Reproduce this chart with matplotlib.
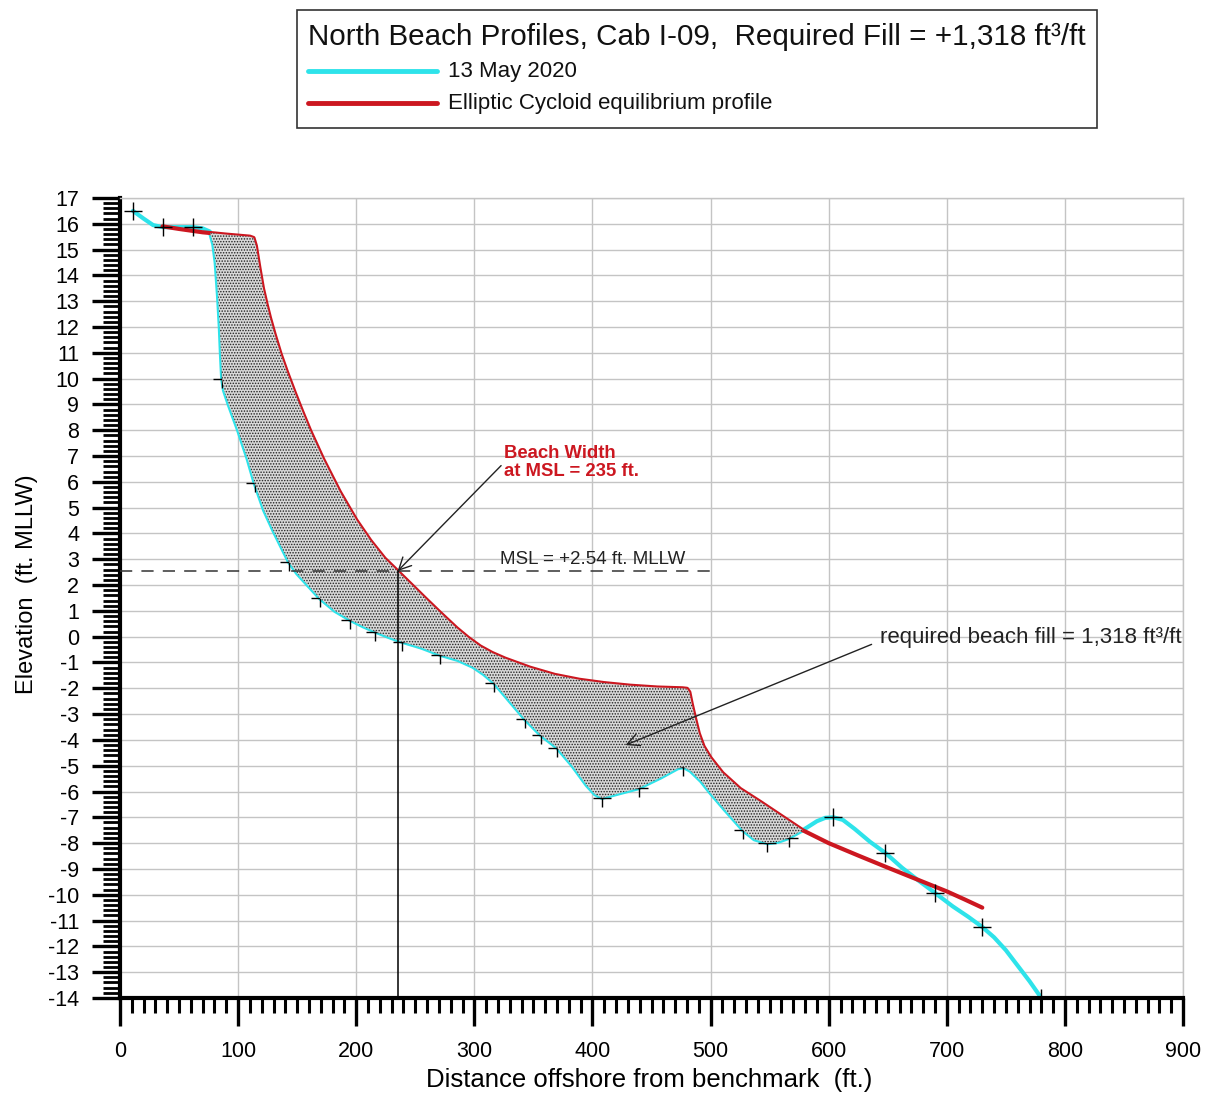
import numpy as np
import matplotlib
matplotlib.use("Agg")
import matplotlib.pyplot as plt
from matplotlib.patches import Rectangle
from matplotlib.lines import Line2D
from matplotlib.ticker import MultipleLocator

plt.rcParams['font.family'] = ['Liberation Sans', 'DejaVu Sans']
plt.rcParams['axes.unicode_minus'] = False
plt.rcParams['hatch.linewidth'] = 0.7

# 13 May 2020 survey profile (distance ft, elevation ft MLLW)
survey_x = [11, 20, 28, 36, 50, 62, 70, 76, 79, 81, 83, 84.5, 85.5, 86.5, 88, 92, 100, 108,
            114, 122, 130, 137, 143, 150, 158, 169, 182, 195, 206, 216, 228, 239, 255, 271,
            286, 299, 308, 317, 330, 343, 356, 370, 383, 395, 402, 408, 420, 439, 458, 472,
            477, 483, 492, 500, 512, 527.5, 537, 548, 557, 566, 578, 590, 597, 604, 612, 622,
            635, 648, 662, 676, 690, 705, 718, 730, 740, 750, 760, 770, 780]
survey_z = [16.5, 16.2, 15.95, 15.87, 15.87, 15.87, 15.82, 15.7, 15.2, 14.5, 13.2, 12.0, 10.9,
            10.0, 9.55, 9.0, 8.0, 6.9, 5.95, 4.9, 4.1, 3.45, 2.9, 2.45, 2.05, 1.5, 1.0, 0.65,
            0.4, 0.2, -0.02, -0.2, -0.42, -0.7, -0.9, -1.17, -1.45, -1.8, -2.5, -3.2, -3.8,
            -4.3, -5.0, -5.75, -6.1, -6.25, -6.1, -5.87, -5.45, -5.1, -5.05, -5.2, -5.6,
            -6.06, -6.7, -7.5, -7.85, -8.0, -7.95, -7.8, -7.5, -7.15, -7.02, -7.0, -7.1,
            -7.45, -7.95, -8.38, -8.95, -9.45, -9.93, -10.45, -10.85, -11.25, -11.65, -12.15,
            -12.75, -13.35, -14.0]

# surveyed shots marked with crosses
shot_x = [11, 36, 62, 86.5, 114, 143, 169, 195, 216, 239, 271, 317, 343, 356, 370, 408, 439,
          477, 527.5, 548, 566, 604, 648, 690, 730, 780]
shot_z = [16.5, 15.87, 15.87, 10.0, 5.95, 2.9, 1.5, 0.65, 0.2, -0.2, -0.7, -1.8, -3.2, -3.8,
          -4.3, -6.25, -5.87, -5.05, -7.5, -8.0, -7.8, -7.0, -8.38, -9.93, -11.25, -14.0]

# elliptic cycloid equilibrium profile
eq_x = [36, 50, 70, 90, 110, 113, 115, 118, 121, 124, 127, 131, 136, 141, 148, 154.5, 161,
        172, 186, 200, 212, 224, 235, 247, 259, 271, 285, 295, 305, 315, 326, 347, 368, 389,
        410, 432, 455, 476, 480, 482, 484, 487, 490, 494, 500, 510, 525, 542, 560, 578, 600,
        625, 650, 675, 700, 715, 730]
eq_z = [15.9, 15.8, 15.67, 15.58, 15.5, 15.45, 15.15, 14.3, 13.5, 12.9, 12.35, 11.7, 10.95,
        10.3, 9.45, 8.7, 7.98, 6.88, 5.62, 4.52, 3.72, 3.03, 2.54, 2.0, 1.46, 0.93, 0.33,
        -0.05, -0.38, -0.63, -0.85, -1.2, -1.48, -1.67, -1.8, -1.9, -1.97, -2.0, -2.02,
        -2.15, -2.6, -3.2, -3.75, -4.25, -4.7, -5.28, -5.9, -6.4, -6.95, -7.5, -8.0, -8.48,
        -8.95, -9.41, -9.87, -10.18, -10.5]

msl = 2.54
beach_width = 235
fill_start, fill_end = 62, 578

cyan = '#2ee3ea'
red = '#cc1720'

fig = plt.figure(figsize=(12.06, 10.95), dpi=100)
ax = fig.add_axes([0.0995, 0.0886, 0.8815, 0.7306])

ax.plot(survey_x, survey_z, color=cyan, lw=3, zorder=2, solid_capstyle='round',
        solid_joinstyle='round')
ax.plot(eq_x, eq_z, color=red, lw=3, zorder=2.2, solid_capstyle='round',
        solid_joinstyle='round')
ax.plot(shot_x, shot_z, ls='none', marker='+', ms=13, mew=1.0, color='black', zorder=2.5)

# required fill between equilibrium and surveyed profiles
xs = np.union1d(survey_x, eq_x)
xs = xs[(xs >= fill_start) & (xs <= fill_end)]
z_eq = np.interp(xs, eq_x, eq_z)
z_sv = np.interp(xs, survey_x, survey_z)
ax.fill_between(xs, z_sv, z_eq, where=z_eq >= z_sv, interpolate=True,
                facecolor='#d8d8d8', edgecolor='#222222', hatch='......', lw=0, zorder=3)

# MSL line and beach width marker
ax.plot([0, 500], [msl, msl], color='#333333', lw=1.1, ls=(0, (8, 6)), zorder=4)
ax.plot([beach_width, beach_width], [-14, msl], color='black', lw=1.1, zorder=4)
ax.text(322, msl + 0.12, 'MSL = +2.54 ft. MLLW', fontsize=13.5, color='#222222',
        ha='left', va='bottom', zorder=5)

ax.annotate('Beach Width\nat MSL = 235 ft.', xy=(beach_width, msl), xytext=(325, 6.74),
            fontsize=13.3, fontweight='bold', color=red, ha='left', va='center',
            linespacing=1.1, zorder=5,
            arrowprops=dict(arrowstyle='->', color='#222222', lw=1.0, mutation_scale=22,
                            shrinkA=0, shrinkB=0, relpos=(0, 0.5)))
ax.annotate('required beach fill = 1,318 ft³/ft', xy=(428, -4.2), xytext=(643, -0.05),
            fontsize=16, color='#222222', ha='left', va='center', zorder=5,
            arrowprops=dict(arrowstyle='->', color='#222222', lw=1.0, mutation_scale=22,
                            shrinkA=4, shrinkB=0, relpos=(0, 0.35)))

ax.set_xlim(0, 900)
ax.set_ylim(-14, 17)
ax.xaxis.set_major_locator(MultipleLocator(100))
ax.xaxis.set_minor_locator(MultipleLocator(10))
ax.yaxis.set_major_locator(MultipleLocator(1))
ax.yaxis.set_minor_locator(MultipleLocator(0.2))
ax.grid(True, which='major', color='#c4c4c4', lw=1.0, zorder=0)
ax.set_axisbelow(True)

ax.tick_params(axis='both', which='major', length=20, width=2.4, color='black',
               labelsize=15.5, direction='out')
ax.tick_params(axis='x', which='major', pad=11)
ax.tick_params(axis='y', which='major', pad=9.5)
ax.tick_params(axis='x', which='minor', length=11, width=2.2, direction='out')
ax.tick_params(axis='y', which='minor', length=12, width=2.0, direction='out')

for side in ('bottom', 'left'):
    ax.spines[side].set_linewidth(3)
for side in ('top', 'right'):
    ax.spines[side].set_color('#c4c4c4')
    ax.spines[side].set_linewidth(1.0)

ax.set_xlabel('Distance offshore from benchmark  (ft.)', fontsize=18.5)
ax.set_ylabel('Elevation  (ft. MLLW)', fontsize=17)
ax.xaxis.set_label_coords(0.4977, -0.088)
ax.yaxis.set_label_coords(-0.077, 0.5175)

# legend box above the plot
W, H = 1206, 1095
fig.add_artist(Rectangle((297 / W, 1 - 128 / H), 800 / W, 118 / H, transform=fig.transFigure,
                         facecolor='white', edgecolor='#333333', lw=1.2))
fig.text(308 / W, 1 - 37 / H, 'North Beach Profiles, Cab I-09,  Required Fill = +1,318 ft³/ft',
         fontsize=21.3, va='center', ha='left', color='#111111')
fig.add_artist(Line2D([308 / W, 437 / W], [1 - 71 / H, 1 - 71 / H], transform=fig.transFigure,
                      color=cyan, lw=3.5, solid_capstyle='round'))
fig.add_artist(Line2D([308 / W, 437 / W], [1 - 103 / H, 1 - 103 / H], transform=fig.transFigure,
                      color=red, lw=3.5, solid_capstyle='round'))
fig.text(448 / W, 1 - 71 / H, '13 May 2020', fontsize=16, va='center', ha='left', color='#111111')
fig.text(448 / W, 1 - 103 / H, 'Elliptic Cycloid equilibrium profile', fontsize=16,
         va='center', ha='left', color='#111111')

fig.savefig('out.png', dpi=100)
